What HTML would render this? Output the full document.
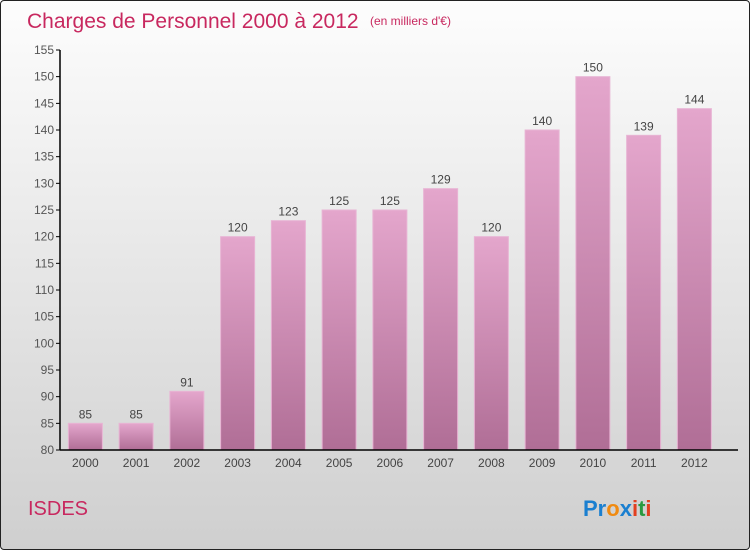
<!DOCTYPE html>
<html><head><meta charset="utf-8"><style>
body{margin:0}
#c{position:relative;width:748px;height:548px;border:1px solid #222;border-radius:4px;background:linear-gradient(#fdfdfd,#cfcfcf);font-family:"Liberation Sans",sans-serif;overflow:hidden}
</style></head><body>
<div id="c">
<svg width="748" height="548">
<defs><linearGradient id="bg" x1="0" y1="0" x2="0" y2="1"><stop offset="0" stop-color="#e4a6cc"/><stop offset="1" stop-color="#b06e96"/></linearGradient></defs>
<text x="26" y="27" font-size="21" fill="#c8285f">Charges de Personnel 2000 à 2012</text>
<text x="369" y="24" font-size="12" fill="#c8285f">(en milliers d'€)</text>
<text x="27" y="514" font-size="20" fill="#c8285f">ISDES</text>
<g font-size="22" font-weight="bold">
<text x="582" y="515"><tspan fill="#1a7fd0">Pr</tspan><tspan fill="#f08a10">o</tspan><tspan fill="#1a7fd0">x</tspan><tspan fill="#e24020">i</tspan><tspan fill="#2a9a40">t</tspan><tspan fill="#e24020">i</tspan></text></g>
<g id="g"></g>
</svg></div>
<script>
const years=["2000","2001","2002","2003","2004","2005","2006","2007","2008","2009","2010","2011","2012"];
const values=[85,85,91,120,123,125,125,129,120,140,150,139,144];
const yTicks=[80,85,90,95,100,105,110,115,120,125,130,135,140,145,150,155];
const ns="http://www.w3.org/2000/svg",g=document.getElementById('g');
const y=v=>449-(v-80)*400/75, band=50.75, x0=59;
function mk(t,a,txt){const e=document.createElementNS(ns,t);for(const k in a)e.setAttribute(k,a[k]);if(txt!==undefined)e.textContent=txt;g.appendChild(e);return e;}
yTicks.forEach(t=>{
const l=mk('line',{x1:55,x2:59,y1:y(t),y2:y(t),stroke:'#000'});


const tx=mk('text',{x:53,y:y(t)+4,'text-anchor':'end','font-size':12,fill:'#555'},t);


});
years.forEach((yr,i)=>{
const cx=x0+band*(i+0.5),v=values[i];
const r=mk('rect',{x:cx-17,y:y(v),width:34,height:y(80)-y(v),fill:'url(#bg)',stroke:'#e8b4d4','stroke-width':1});


const vl=mk('text',{x:cx,y:y(v)-5,'text-anchor':'middle','font-size':12,fill:'#444'},v);


const xl=mk('text',{x:cx,y:466,'text-anchor':'middle','font-size':12,fill:'#444'},yr);


});
const ya=mk('line',{x1:59,x2:59,y1:49,y2:449,stroke:'#000','stroke-width':1.5});


const xa=mk('line',{x1:59,x2:737,y1:449,y2:449,stroke:'#000','stroke-width':1.5});


</script>
</body></html>
